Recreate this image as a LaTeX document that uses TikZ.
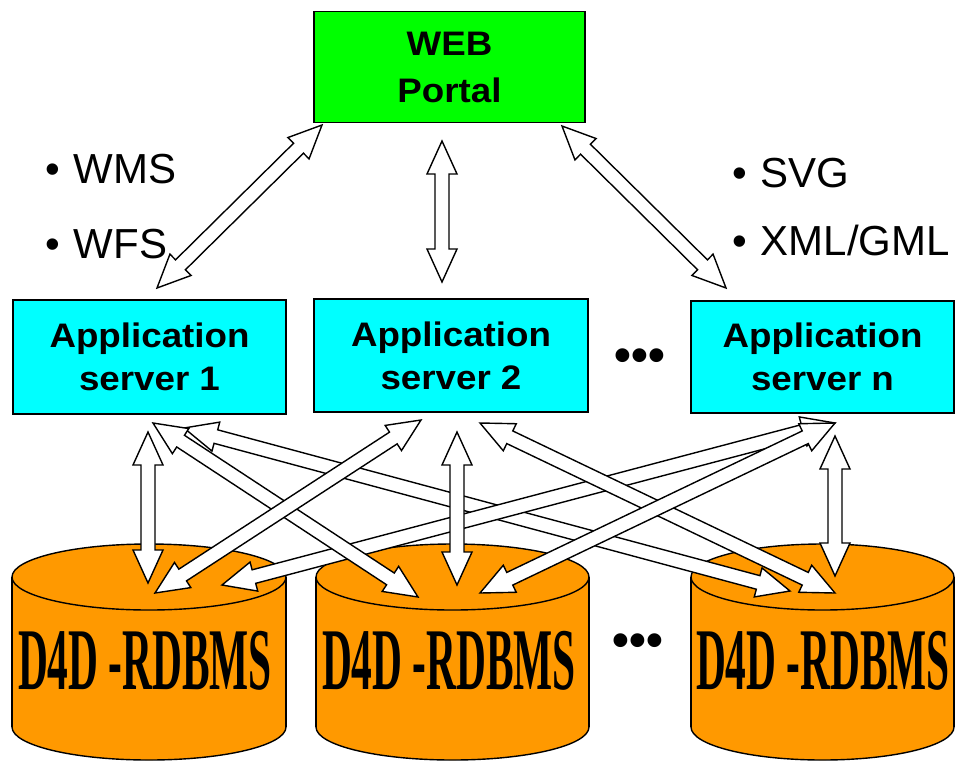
\documentclass[tikz,border=0pt]{standalone}
\usepackage{fontspec}
\setmainfont{Liberation Sans}
\newfontfamily\boxfont[FakeStretch=1.08]{Liberation Sans}
\newfontfamily\dbfont[FakeStretch=0.47]{Liberation Serif}
\usetikzlibrary{calc}
\definecolor{portalgreen}{RGB}{0,255,0}
\definecolor{srvcyan}{RGB}{0,255,255}
\definecolor{dborange}{RGB}{255,153,0}
\newcommand\arrHL{33pt}
\newcommand\arrHW{15pt}
\newcommand\arrSW{7pt}
\newcommand\dblarr[2]{%
 \draw[arr] (#1) -- ($(#1)!\arrHL!(#2)!\arrHW!90:(#2)$) -- ($(#1)!\arrHL!(#2)!\arrSW!90:(#2)$)
  -- ($(#2)!\arrHL!(#1)!\arrSW!-90:(#1)$) -- ($(#2)!\arrHL!(#1)!\arrHW!-90:(#1)$) -- (#2)
  -- ($(#2)!\arrHL!(#1)!\arrHW!90:(#1)$) -- ($(#2)!\arrHL!(#1)!\arrSW!90:(#1)$)
  -- ($(#1)!\arrHL!(#2)!\arrSW!-90:(#2)$) -- ($(#1)!\arrHL!(#2)!\arrHW!-90:(#2)$) -- cycle;}
\begin{document}
\begin{tikzpicture}[x=1pt,y=-1pt,
  arr/.style={draw=black, fill=white, line width=1.4pt, line join=miter},
  boxtxt/.style={font=\boxfont\bfseries\fontsize{34}{43}\selectfont, align=center, inner sep=0pt},
  srv/.style={boxtxt, draw=black, line width=1.5pt, fill=srvcyan},
  bul/.style={font=\fontsize{42}{42}\selectfont, anchor=base west, inner sep=0pt},
  dots/.style={font=\bfseries\fontsize{48}{48}\selectfont, inner sep=0pt},
  dbtxt/.style={font=\dbfont\bfseries\fontsize{88}{88}\selectfont, inner sep=0pt},
  cylline/.style={line width=1.4pt}]
\useasboundingbox (0,0) rectangle (955,761);
\fill[white] (0,0) rectangle (955,761);

% databases
\foreach \cx/\rx/\nm/\tx in {149/137/db1/145, 452.5/136.5/db2/449, 822.5/131.5/dbn/823}{
  \fill[dborange] (\cx-\rx,577) rectangle (\cx+\rx,727);
  \fill[dborange] (\cx,727) ellipse [x radius=\rx, y radius=33];
  \draw[cylline] (\cx-\rx,577) -- (\cx-\rx,727) (\cx+\rx,577) -- (\cx+\rx,727);
  \begin{scope}
    \clip (\cx-\rx-5,727) rectangle (\cx+\rx+5,800);
    \draw[cylline] (\cx,727) ellipse [x radius=\rx, y radius=33];
  \end{scope}
  \draw[cylline, fill=dborange] (\cx,577) ellipse [x radius=\rx, y radius=33];
  \node[dbtxt] (\nm) at (\tx,661) {D4D -RDBMS};
}

% portal and servers
\node[boxtxt, draw=black, line width=1.5pt, fill=portalgreen, minimum width=271pt, minimum height=111pt,
  font=\boxfont\bfseries\fontsize{34}{47}\selectfont] (portal) at (449.5,67) {WEB\\Portal};
\node[srv, minimum width=273pt, minimum height=114pt] (app1) at (149.5,357) {Application\\server 1};
\node[srv, minimum width=274pt, minimum height=113pt] (app2) at (451,355.5) {Application\\server 2};
\node[srv, minimum width=263pt, minimum height=112pt] (appn) at (822.5,357) {Application\\server n};

\node[dots] (dotsA) at (640,360) {•••};
\node[dots] (dotsB) at (638,645) {•••};

% protocol labels
\node[bul] (wms) at (45,183) {•\hspace{14pt}WMS};
\node[bul] (wfs) at (45,258) {•\hspace{14pt}WFS};
\node[bul] (svg) at (732,187) {•\hspace{14pt}SVG};
\node[bul] (xml) at (732,255) {•\hspace{14pt}XML/GML};

% arrow end points
\coordinate (p1) at (322,125); \coordinate (s1t) at (157,288);
\coordinate (p2) at (442,141); \coordinate (s2t) at (442,282);
\coordinate (p3) at (562,126); \coordinate (snt) at (726,288);

\coordinate (s1a) at (148,432); \coordinate (d1a) at (148,583);
\coordinate (s2a) at (457,432); \coordinate (d2a) at (457,585);
\coordinate (sna) at (835,436); \coordinate (dna) at (835,576);
\coordinate (s1b) at (153,423); \coordinate (d2b) at (418,597);
\coordinate (s1c) at (184,428); \coordinate (dnc) at (790,591);
\coordinate (s2b) at (421,420); \coordinate (d1b) at (155,593);
\coordinate (s2c) at (480,423); \coordinate (dnb) at (835,593);
\coordinate (snb) at (835,423); \coordinate (d1c) at (222,585);
\coordinate (snc) at (835,423); \coordinate (d2c) at (480,593);

\dblarr{p1}{s1t}
\dblarr{p2}{s2t}
\dblarr{p3}{snt}

\dblarr{s1c}{dnc}
\dblarr{snb}{d1c}
\dblarr{s1b}{d2b}
\dblarr{s2b}{d1b}
\dblarr{s2c}{dnb}
\dblarr{snc}{d2c}
\dblarr{s1a}{d1a}
\dblarr{s2a}{d2a}
\dblarr{sna}{dna}
\end{tikzpicture}
\end{document}
